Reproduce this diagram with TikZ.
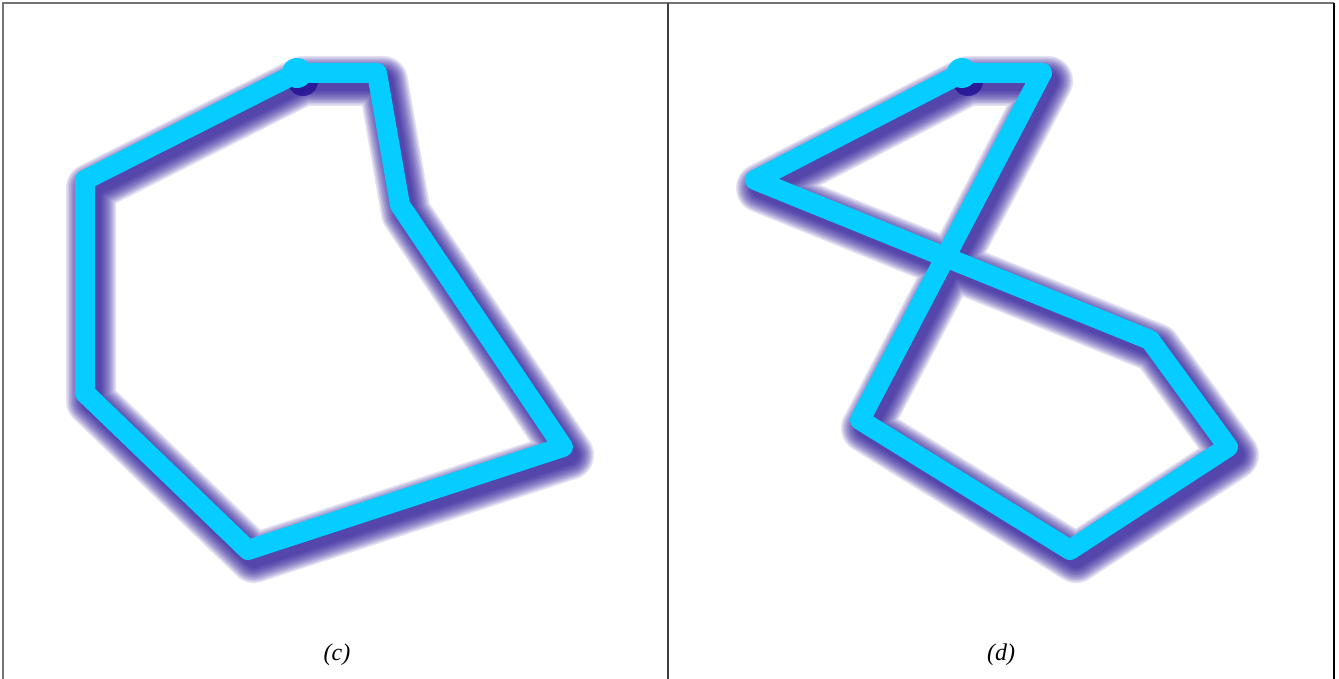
\documentclass[tikz,border=0pt]{standalone}
\usepackage{fontspec}
\setmainfont{Liberation Serif}
\definecolor{polycyan}{RGB}{5,205,255}
\definecolor{shadowblue}{RGB}{30,12,145}
\tikzset{
  polyline/.style={line width=20pt,color=polycyan,line cap=round,line join=round},
  polyshadow/.style={line width=#1,color=shadowblue,line cap=round,line join=round,opacity=0.12},
  framegray/.style={line width=2pt,color=black!55},
  panellabel/.style={font=\fontsize{24}{28}\selectfont\itshape},
}
% the two polygons, drawn with given options
\newcommand{\leftpoly}[1]{%
  \draw[#1] (297,73)-- (377,73)-- (400,205)-- (563,447)-- (248,550)-- (85,393)-- (85,180)-- cycle;
  \fill[#1,line width=0pt] (297,73) circle (15);}
\newcommand{\rightpoly}[1]{%
  \draw[#1] (962,73)-- (1042,73)-- (860,420)-- (1070,550)-- (1228,447)-- (1150,340)-- (755,180)-- cycle;
  \fill[#1,line width=0pt] (962,73) circle (15);}
\begin{document}
\begin{tikzpicture}[x=1pt,y=-1pt]
  \useasboundingbox (0,0) rectangle (1339,679);
  % frame
  \draw[framegray] (3,679)-- (3,3)-- (1334,3);
  \draw[framegray,color=black!75] (668,3)-- (668,679);
  \draw[line width=2pt,color=black] (1334,3)-- (1334,679);
  % blurred shadows
  \foreach \w in {20,23,...,50}{
    \leftpoly{polyshadow=\w pt,shift={(6,8)}}
    \rightpoly{polyshadow=\w pt,shift={(6,8)}}
  }
  % cyan outlines
  \leftpoly{polyline}
  \rightpoly{polyline}
  \node[panellabel] (labelc) at (337,655) {(c)};
  \node[panellabel] (labeld) at (1001,655) {(d)};
\end{tikzpicture}
\end{document}
